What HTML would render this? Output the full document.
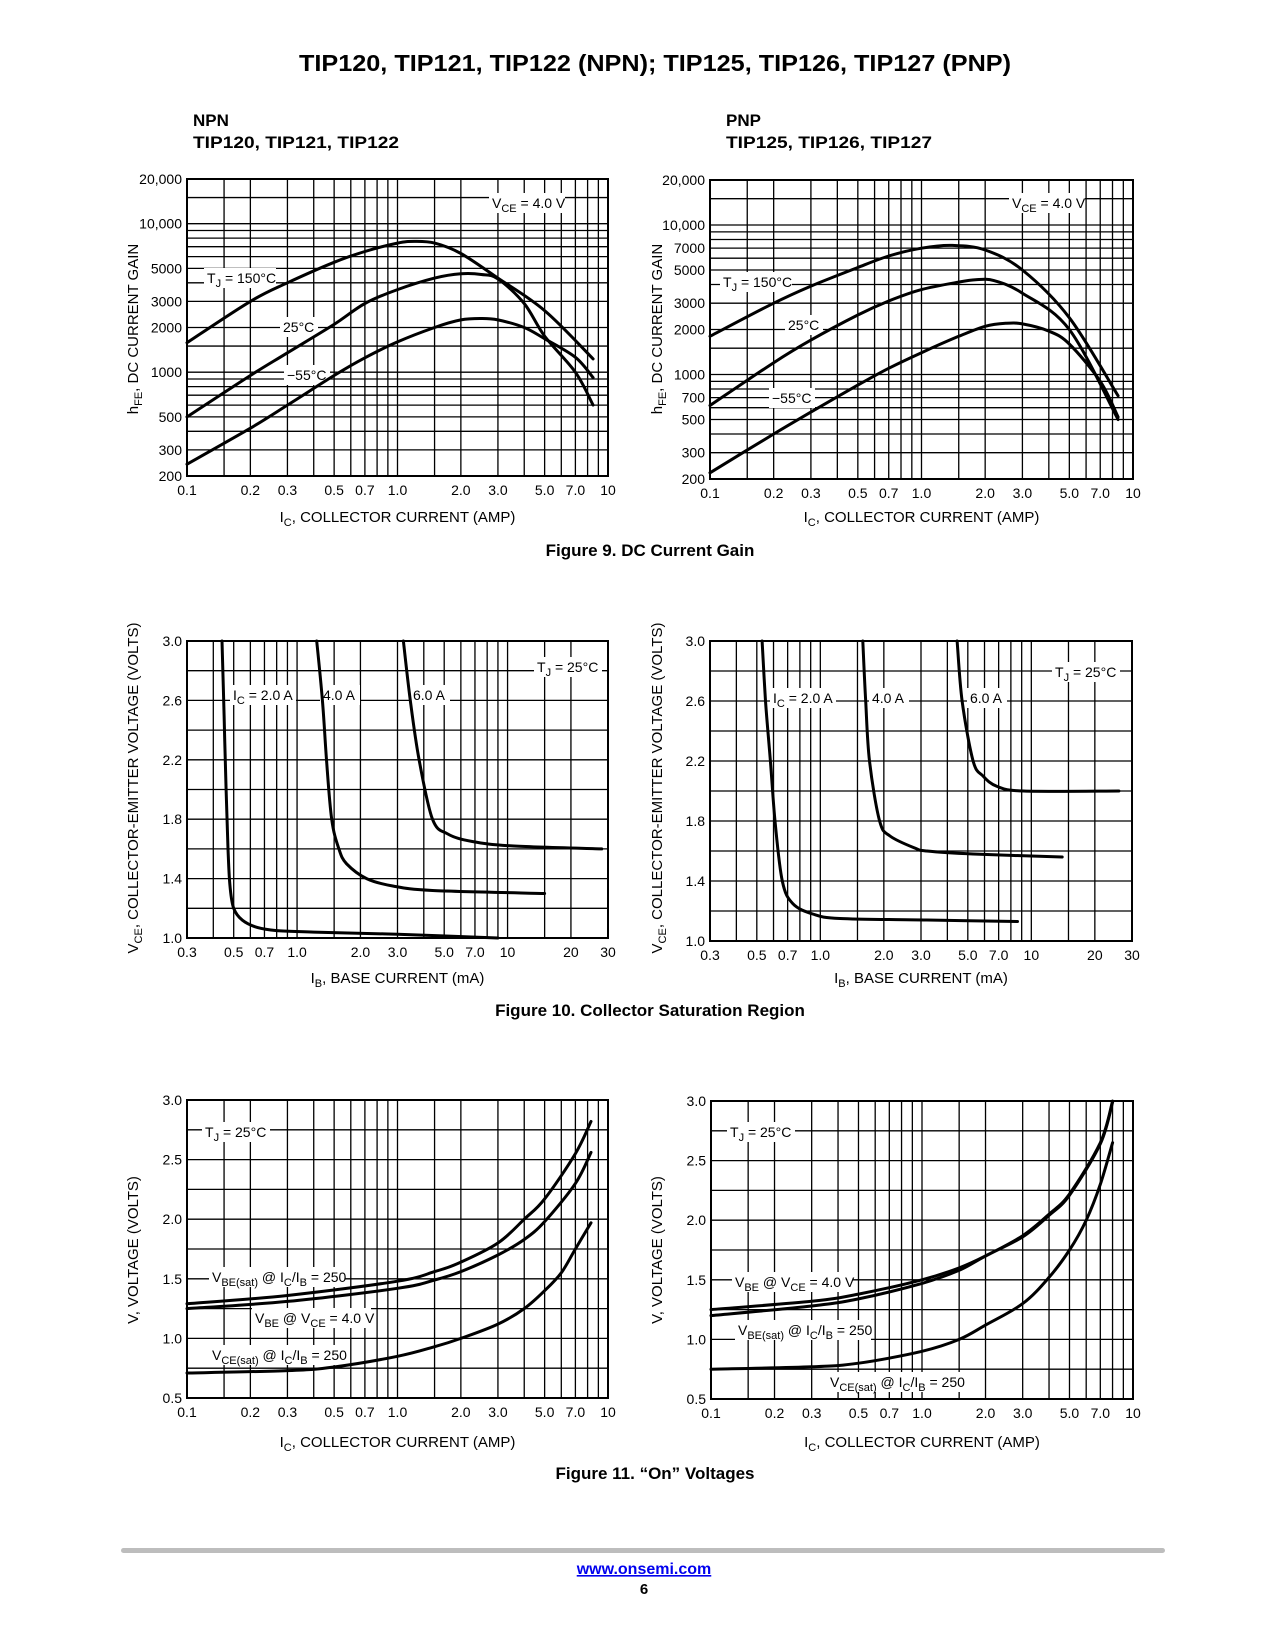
<!DOCTYPE html>
<html><head><meta charset="utf-8"><style>
html,body{margin:0;padding:0;background:#fff;}
svg{display:block;font-family:"Liberation Sans",sans-serif;}
</style></head><body>
<svg id="page" width="1275" height="1650" viewBox="0 0 1275 1650" xmlns="http://www.w3.org/2000/svg">
<text x="655" y="71" text-anchor="middle" font-size="23" font-weight="bold" textLength="712" lengthAdjust="spacingAndGlyphs">TIP120, TIP121, TIP122 (NPN); TIP125, TIP126, TIP127 (PNP)</text>
<text x="193" y="126" font-size="17" font-weight="bold">NPN</text>
<text x="193" y="148" font-size="17" font-weight="bold" textLength="206" lengthAdjust="spacingAndGlyphs">TIP120, TIP121, TIP122</text>
<text x="726" y="126" font-size="17" font-weight="bold">PNP</text>
<text x="726" y="148" font-size="17" font-weight="bold" textLength="206" lengthAdjust="spacingAndGlyphs">TIP125, TIP126, TIP127</text>
<text x="650" y="556" text-anchor="middle" font-size="17" font-weight="bold">Figure 9. DC Current Gain</text>
<text x="650" y="1016" text-anchor="middle" font-size="17" font-weight="bold">Figure 10. Collector Saturation Region</text>
<text x="655" y="1479" text-anchor="middle" font-size="17" font-weight="bold">Figure 11. “On” Voltages</text>
<rect x="121" y="1548" width="1044" height="5" rx="2.5" fill="#bdbdbd"/>
<a href="#"><text x="644" y="1574" text-anchor="middle" font-size="16" font-weight="bold" fill="#0000ee" text-decoration="underline">www.onsemi.com</text></a>
<text x="644" y="1594" text-anchor="middle" font-size="15" font-weight="bold">6</text>
<g id="charts"></g>
</svg>
<script>
// ---------- Figure 9 data ----------
const f9XTicks = [0.1,0.2,0.3,0.5,0.7,1,2,3,5,7,10];
const f9XTickLabels = ["0.1","0.2","0.3","0.5","0.7","1.0","2.0","3.0","5.0","7.0","10"];
const f9LYTicks = [200,300,500,1000,2000,3000,5000,10000,20000];
const f9LYTickLabels = ["200","300","500","1000","2000","3000","5000","10,000","20,000"];
const f9RYTicks = [200,300,500,700,1000,2000,3000,5000,7000,10000,20000];
const f9RYTickLabels = ["200","300","500","700","1000","2000","3000","5000","7000","10,000","20,000"];
const f9LX150 = [0.1,0.2,0.3,0.5,0.7,1.0,1.2,1.5,2,3,5,8.5];
const f9LY150 = [1580,3000,4000,5500,6500,7400,7600,7400,6300,4300,2600,1230];
const f9LX25 = [0.1,0.2,0.3,0.5,0.7,1.0,1.5,2.0,2.5,3,4,5,7,8.5];
const f9LY25 = [500,950,1350,2100,2900,3600,4300,4600,4550,4250,2900,1750,1000,600];
const f9LXm55 = [0.1,0.2,0.3,0.5,0.7,1.0,1.5,2,2.5,3,4,5,7,8.5];
const f9LYm55 = [240,420,600,950,1250,1600,2000,2250,2300,2250,2000,1680,1260,920];
const f9RX150 = [0.1,0.2,0.3,0.5,0.7,1.0,1.4,2,3,5,8.5];
const f9RY150 = [1800,3000,3900,5200,6200,7000,7300,6800,5000,2400,720];
const f9RX25 = [0.1,0.2,0.3,0.5,0.7,1,1.5,1.8,2.2,3,5,8.5];
const f9RY25 = [620,1200,1700,2500,3100,3700,4150,4300,4250,3500,2000,500];
const f9RXm55 = [0.1,0.2,0.3,0.5,0.7,1,1.5,2,2.5,3,4,5,7,8.5];
const f9RYm55 = [220,400,560,850,1100,1400,1800,2100,2200,2180,1950,1600,900,520];
// ---------- Figure 10 data ----------
const f10XTicks = [0.3,0.5,0.7,1,2,3,5,7,10,20,30];
const f10XTickLabels = ["0.3","0.5","0.7","1.0","2.0","3.0","5.0","7.0","10","20","30"];
const f10YTicks = [1.0,1.4,1.8,2.2,2.6,3.0];
const f10YTickLabels = ["1.0","1.4","1.8","2.2","2.6","3.0"];
const f10LX2 = [0.44,0.45,0.46,0.47,0.48,0.5,0.55,0.65,0.8,1.2,3,9];
const f10LY2 = [3.0,2.5,2.0,1.6,1.35,1.2,1.12,1.07,1.05,1.04,1.025,1.0];
const f10LX4 = [1.24,1.32,1.38,1.46,1.58,1.72,2.14,2.85,4.4,15];
const f10LY4 = [3.0,2.6,2.2,1.8,1.6,1.5,1.4,1.35,1.32,1.3];
const f10LX6 = [3.2,3.45,3.8,4.4,5.2,6.8,10.5,28];
const f10LY6 = [3.0,2.6,2.2,1.8,1.7,1.65,1.62,1.6];
const f10RX2 = [0.53,0.55,0.58,0.61,0.66,0.74,0.92,1.24,3.2,8.6];
const f10RY2 = [3.0,2.6,2.2,1.8,1.4,1.25,1.18,1.15,1.14,1.13];
const f10RX4 = [1.59,1.64,1.71,1.91,2.14,2.8,3.2,5.3,14];
const f10RY4 = [3.0,2.6,2.2,1.8,1.7,1.62,1.6,1.58,1.56];
const f10RX6 = [4.45,4.7,5.3,5.9,6.9,9.2,26];
const f10RY6 = [3.0,2.6,2.2,2.1,2.03,2.0,2.0];
// ---------- Figure 11 data ----------
const f11XTicks = f9XTicks;
const f11XTickLabels = f9XTickLabels;
const f11YTicks = [0.5,1.0,1.5,2.0,2.5,3.0];
const f11YTickLabels = ["0.5","1.0","1.5","2.0","2.5","3.0"];
const f11LXbesat = [0.1,0.3,1,1.5,2,3,4,5,7,8.3];
const f11LYbesat = [1.29,1.36,1.48,1.56,1.64,1.8,2.0,2.17,2.55,2.82];
const f11LXbe = [0.1,0.3,1,1.5,2,3,4,5,7,8.3];
const f11LYbe = [1.25,1.31,1.42,1.49,1.56,1.7,1.83,1.98,2.3,2.56];
const f11LXcesat = [0.1,0.3,0.5,1,1.5,2,3,4,5,6,7,8.3];
const f11LYcesat = [0.71,0.73,0.76,0.85,0.93,1.0,1.12,1.25,1.4,1.55,1.75,1.97];
const f11RXbe = [0.1,0.3,0.5,1,1.5,2,3,4,5,7,8];
const f11RYbe = [1.25,1.32,1.38,1.5,1.6,1.7,1.87,2.05,2.22,2.65,3.0];
const f11RXbesat = [0.1,0.3,0.5,1,1.5,2,3,4,5,7,8];
const f11RYbesat = [1.2,1.28,1.34,1.47,1.58,1.7,1.86,2.04,2.21,2.64,2.99];
const f11RXcesat = [0.1,0.3,0.5,1,1.5,2,3,4,5,6,7,8];
const f11RYcesat = [0.75,0.77,0.8,0.9,1.0,1.12,1.3,1.52,1.75,2.0,2.3,2.65];

const NS = "http://www.w3.org/2000/svg";
const root = document.getElementById('charts');
function mk(tag, attrs, parent){
  const e = document.createElementNS(NS, tag);
  for (const k in attrs) e.setAttribute(k, attrs[k]);
  (parent||root).appendChild(e); return e;
}
function logScale(d0,d1,p0,p1){ return v => p0 + (Math.log10(v)-Math.log10(d0))/(Math.log10(d1)-Math.log10(d0))*(p1-p0); }
function linScale(d0,d1,p0,p1){ return v => p0 + (v-d0)/(d1-d0)*(p1-p0); }
function decadeLines(lo,hi){
  const out=[]; let d=Math.pow(10,Math.floor(Math.log10(lo)));
  while(d<=hi*1.0001){ for(const m of [1,1.5,2,3,4,5,6,7,8,9]){ const v=m*d; if(v>=lo*0.9999&&v<=hi*1.0001) out.push(v);} d*=10; }
  return out;
}
function smoothPath(pts){
  let s = "M"+pts[0][0].toFixed(1)+","+pts[0][1].toFixed(1);
  for(let i=0;i<pts.length-1;i++){
    const p0=pts[Math.max(0,i-1)],p1=pts[i],p2=pts[i+1],p3=pts[Math.min(pts.length-1,i+2)];
    const c1=[p1[0]+(p2[0]-p0[0])/6,p1[1]+(p2[1]-p0[1])/6];
    const c2=[p2[0]-(p3[0]-p1[0])/6,p2[1]-(p3[1]-p1[1])/6];
    s+=" C"+c1[0].toFixed(1)+","+c1[1].toFixed(1)+" "+c2[0].toFixed(1)+","+c2[1].toFixed(1)+" "+p2[0].toFixed(1)+","+p2[1].toFixed(1);
  }
  return s;
}
function label(g, x, y, w, html, name){
  const r = mk('rect',{x:x-3,y:y-10,width:w+6,height:20,fill:'#fff'},g);
  
  
  const t = mk('text',{x:x,y:y+5,'font-size':14},g);
  t.innerHTML = html;
  
  
}
function chart(c){
  const g = mk('g',{});
  
  
  const X = c.xlog ? logScale(c.xd[0],c.xd[1],c.x0,c.x1) : linScale(c.xd[0],c.xd[1],c.x0,c.x1);
  const Y = c.ylog ? logScale(c.yd[0],c.yd[1],c.y0,c.y1) : linScale(c.yd[0],c.yd[1],c.y0,c.y1);
  const gg = mk('g',{stroke:'#000','stroke-width':1.3},g);
  
  
  for(const v of decadeLines(c.xd[0],c.xd[1])){ const x=X(v); mk('line',{x1:x,x2:x,y1:c.y1,y2:c.y0},gg); }
  for(const v of c.yGrid){ const y=Y(v); mk('line',{x1:c.x0,x2:c.x1,y1:y,y2:y},gg); }
  for(const L of c.labels) label(g, L[0], L[1], L[2], L[3], L[4]);
  const fr = mk('rect',{x:c.x0,y:c.y1,width:c.x1-c.x0,height:c.y0-c.y1,fill:'none',stroke:'#000','stroke-width':2},g);
  
  
  c.xTicks.forEach((v,i)=>{
    const t=mk('text',{x:X(v),y:c.y0+19,'text-anchor':'middle','font-size':14},g);
    t.textContent=c.xTickLabels[i];
    
    
  });
  c.yTicks.forEach((v,i)=>{
    const t=mk('text',{x:c.x0-5,y:Y(v)+5,'text-anchor':'end','font-size':14},g);
    t.textContent=c.yTickLabels[i];
    
    
  });
  c.series.forEach(s=>{
    const pts = s.xs.map((v,i)=>[X(v),Y(s.ys[i])]);
    const p = mk('path',{d:smoothPath(pts),fill:'none',stroke:'#000','stroke-width':3,'stroke-linecap':'round'},g);
    
    
  });
  const xt = mk('text',{x:(c.x0+c.x1)/2,y:c.xTitleY,'text-anchor':'middle','font-size':15},g);
  xt.innerHTML = c.xTitle;
  
  
  const yc = c.yTitleC;
  const yt = mk('text',{x:c.yTitleX,y:yc,'text-anchor':'middle','font-size':15,transform:`rotate(-90 ${c.yTitleX} ${yc})`},g);
  yt.innerHTML = c.yTitle;
  
  
}
const sub = s => `<tspan font-size="11" baseline-shift="-4">${s}</tspan>`;
const ic = `I${sub('C')}, COLLECTOR CURRENT (AMP)`;
const hfe = `h${sub('FE')}, DC CURRENT GAIN`;
const vce = `V${sub('CE')}, COLLECTOR-EMITTER VOLTAGE (VOLTS)`;
const ib = `I${sub('B')}, BASE CURRENT (mA)`;
const f9Grid = decadeLines(200,20000);
const f10Grid = [1.0,1.2,1.4,1.6,1.8,2.0,2.2,2.4,2.6,2.8,3.0];
const f11Grid = [0.5,0.75,1,1.25,1.5,1.75,2,2.25,2.5,2.75,3];
const vceLbl = `V${sub('CE')} = 4.0 V`;
const tj150 = `T${sub('J')} = 150°C`;
const tj25 = `T${sub('J')} = 25°C`;
const icLbl = `I${sub('C')} = 2.0 A`;

chart({name:'fig9-npn-gain-chart',x0:187,x1:608,y0:476,y1:179,xd:[0.1,10],yd:[200,20000],xlog:true,ylog:true,
 yGrid:f9Grid,xTicks:f9XTicks,xTickLabels:f9XTickLabels,yTicks:f9LYTicks,yTickLabels:f9LYTickLabels,
 xTitle:ic,xTitleY:522,yTitle:hfe,yTitleX:138,yTitleC:329,
 labels:[[492,203,70,vceLbl,'vce-label'],[207,278,66,tj150,'tj-150-label'],[283,327,32,'25°C','t25-label'],[287,375,40,'−55°C','tm55-label']],
 series:[{name:'npn-gain-150c',xs:f9LX150,ys:f9LY150},{name:'npn-gain-25c',xs:f9LX25,ys:f9LY25},{name:'npn-gain-m55c',xs:f9LXm55,ys:f9LYm55}]});
chart({name:'fig9-pnp-gain-chart',x0:710,x1:1133,y0:479,y1:180,xd:[0.1,10],yd:[200,20000],xlog:true,ylog:true,
 yGrid:f9Grid,xTicks:f9XTicks,xTickLabels:f9XTickLabels,yTicks:f9RYTicks,yTickLabels:f9RYTickLabels,
 xTitle:ic,xTitleY:522,yTitle:hfe,yTitleX:662,yTitleC:329,
 labels:[[1012,203,70,vceLbl,'vce-label'],[723,282,66,tj150,'tj-150-label'],[788,325,32,'25°C','t25-label'],[772,398,40,'−55°C','tm55-label']],
 series:[{name:'pnp-gain-150c',xs:f9RX150,ys:f9RY150},{name:'pnp-gain-25c',xs:f9RX25,ys:f9RY25},{name:'pnp-gain-m55c',xs:f9RXm55,ys:f9RYm55}]});
chart({name:'fig10-npn-sat-chart',x0:187,x1:608,y0:938,y1:641,xd:[0.3,30],yd:[1,3],xlog:true,ylog:false,
 yGrid:f10Grid,xTicks:f10XTicks,xTickLabels:f10XTickLabels,yTicks:f10YTicks,yTickLabels:f10YTickLabels,
 xTitle:ib,xTitleY:983,yTitle:vce,yTitleX:138,yTitleC:788,
 labels:[[233,695,60,icLbl,'ic-2a-label'],[323,695,34,'4.0 A','ic-4a-label'],[413,695,34,'6.0 A','ic-6a-label'],[537,667,62,tj25,'tj-25-label']],
 series:[{name:'npn-sat-2a',xs:f10LX2,ys:f10LY2},{name:'npn-sat-4a',xs:f10LX4,ys:f10LY4},{name:'npn-sat-6a',xs:f10LX6,ys:f10LY6}]});
chart({name:'fig10-pnp-sat-chart',x0:710,x1:1132,y0:941,y1:641,xd:[0.3,30],yd:[1,3],xlog:true,ylog:false,
 yGrid:f10Grid,xTicks:f10XTicks,xTickLabels:f10XTickLabels,yTicks:f10YTicks,yTickLabels:f10YTickLabels,
 xTitle:ib,xTitleY:983,yTitle:vce,yTitleX:662,yTitleC:788,
 labels:[[773,698,60,icLbl,'ic-2a-label'],[872,698,34,'4.0 A','ic-4a-label'],[970,698,34,'6.0 A','ic-6a-label'],[1055,672,62,tj25,'tj-25-label']],
 series:[{name:'pnp-sat-2a',xs:f10RX2,ys:f10RY2},{name:'pnp-sat-4a',xs:f10RX4,ys:f10RY4},{name:'pnp-sat-6a',xs:f10RX6,ys:f10RY6}]});
chart({name:'fig11-npn-on-chart',x0:187,x1:608,y0:1398,y1:1100,xd:[0.1,10],yd:[0.5,3],xlog:true,ylog:false,
 yGrid:f11Grid,xTicks:f11XTicks,xTickLabels:f11XTickLabels,yTicks:f11YTicks,yTickLabels:f11YTickLabels,
 xTitle:ic,xTitleY:1447,yTitle:'V, VOLTAGE (VOLTS)',yTitleX:138,yTitleC:1250,
 labels:[[205,1132,62,tj25,'tj-25-label'],[212,1277,130,`V${sub('BE(sat)')} @ I${sub('C')}/I${sub('B')} = 250`,'vbesat-label'],[255,1318,113,`V${sub('BE')} @ V${sub('CE')} = 4.0 V`,'vbe-label'],[212,1355,131,`V${sub('CE(sat)')} @ I${sub('C')}/I${sub('B')} = 250`,'vcesat-label']],
 series:[{name:'npn-vbesat',xs:f11LXbesat,ys:f11LYbesat},{name:'npn-vbe',xs:f11LXbe,ys:f11LYbe},{name:'npn-vcesat',xs:f11LXcesat,ys:f11LYcesat}]});
chart({name:'fig11-pnp-on-chart',x0:711,x1:1133,y0:1399,y1:1101,xd:[0.1,10],yd:[0.5,3],xlog:true,ylog:false,
 yGrid:f11Grid,xTicks:f11XTicks,xTickLabels:f11XTickLabels,yTicks:f11YTicks,yTickLabels:f11YTickLabels,
 xTitle:ic,xTitleY:1447,yTitle:'V, VOLTAGE (VOLTS)',yTitleX:662,yTitleC:1250,
 labels:[[730,1132,62,tj25,'tj-25-label'],[735,1282,115,`V${sub('BE')} @ V${sub('CE')} = 4.0 V`,'vbe-label'],[738,1330,130,`V${sub('BE(sat)')} @ I${sub('C')}/I${sub('B')} = 250`,'vbesat-label'],[830,1382,132,`V${sub('CE(sat)')} @ I${sub('C')}/I${sub('B')} = 250`,'vcesat-label']],
 series:[{name:'pnp-vbe',xs:f11RXbe,ys:f11RYbe},{name:'pnp-vbesat',xs:f11RXbesat,ys:f11RYbesat},{name:'pnp-vcesat',xs:f11RXcesat,ys:f11RYcesat}]});
</script>
</body></html>
